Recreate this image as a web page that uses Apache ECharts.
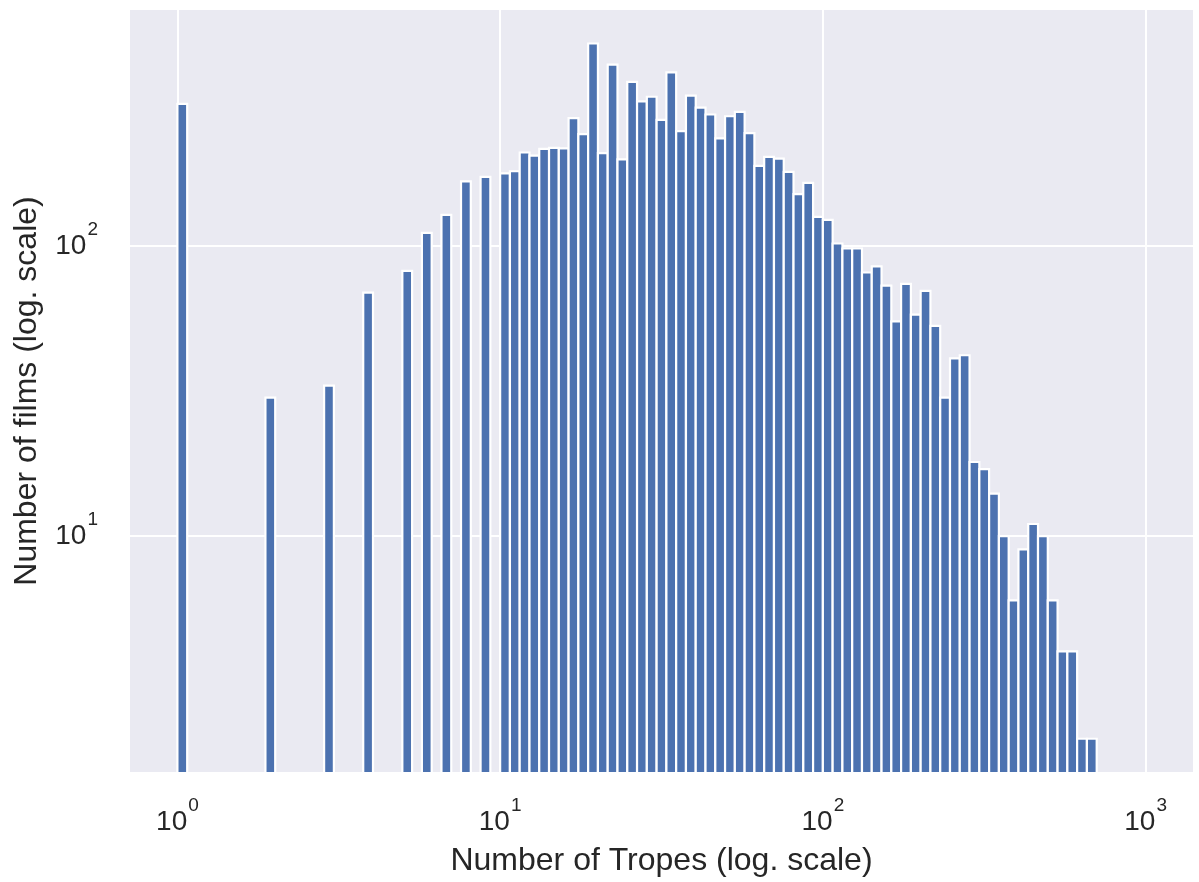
<!DOCTYPE html>
<html>
<head>
<meta charset="utf-8">
<script src="https://cdn.jsdelivr.net/npm/echarts@6/dist/echarts.min.js"></script>
<style>
  html, body { margin: 0; padding: 0; background: #fff; }
  #chart { width: 1199px; height: 882px; }
</style>
</head>
<body>
<div id="chart"></div>
<script>
// log-spaced bins: 99 bins between 10^0 and 10^3
const BIN_LOG_MIN = 0;
const BIN_LOG_MAX = 3;
const BIN_COUNT = 99;

// number of films per bin
const FILM_COUNTS = [
  309, 0, 0, 0, 0, 0, 0, 0, 0, 30,
  0, 0, 0, 0, 0, 33, 0, 0, 0, 69,
  0, 0, 0, 82, 0, 111, 0, 128, 0, 167,
  0, 173, 0, 178, 181, 210, 205, 216, 218, 217,
  276, 243, 499, 209, 422, 199, 368, 315, 327, 272,
  397, 249, 330, 300, 284, 235, 280, 290, 245, 189,
  203, 200, 180, 151, 165, 126, 123, 102, 98, 98,
  81, 85, 73, 55, 74, 58, 70, 53, 30, 41,
  42, 18, 17, 14, 10, 6, 9, 11, 10, 6,
  4, 4, 2, 2, 0, 0, 0, 0, 0
];

const X_MIN = Math.pow(10, -0.15);
const X_MAX = Math.pow(10, 3.15);
const Y_MIN = Math.pow(10, 0.183);
const Y_MAX = Math.pow(10, 2.817);

const FONT = '"Liberation Sans", Arial, Helvetica, sans-serif';
const TEXT = '#262626';

const binEdges = [];
for (let i = 0; i <= BIN_COUNT; i++) {
  binEdges.push(Math.pow(10, BIN_LOG_MIN + (BIN_LOG_MAX - BIN_LOG_MIN) * i / BIN_COUNT));
}
const bars = [];
FILM_COUNTS.forEach((c, i) => {
  if (c > 0) bars.push([binEdges[i], binEdges[i + 1], c]);
});

// 10^n labels, nothing on the axis ends
function powLabel(v) {
  const e = Math.log10(v);
  if (Math.abs(e - Math.round(e)) > 1e-6) return '';
  return '{b|10}{sup|' + Math.round(e) + '}';
}
const richLabel = {
  b: { fontSize: 28, fontFamily: FONT, color: TEXT, lineHeight: 52 },
  sup: { fontSize: 19, fontFamily: FONT, color: TEXT, lineHeight: 20, verticalAlign: 'top', padding: [0, 0, 0, 1] }
};

const chart = echarts.init(document.getElementById('chart'));
chart.setOption({
  animation: false,
  backgroundColor: '#fff',
  grid: {
    left: 129, right: 5, top: 9, bottom: 109,
    show: true, backgroundColor: '#EAEAF2', borderWidth: 0,
    outerBoundsMode: 'none'
  },
  xAxis: {
    type: 'log',
    logBase: 10,
    min: X_MIN,
    max: X_MAX,
    name: 'Number of Tropes (log. scale)',
    nameLocation: 'middle',
    nameGap: 72,
    nameMoveOverlap: false,
    nameTextStyle: { fontSize: 32, fontFamily: FONT, color: TEXT },
    axisLine: { show: false },
    axisTick: { show: false },
    axisLabel: { margin: 23, formatter: powLabel, rich: richLabel },
    splitLine: { show: true, lineStyle: { color: '#fff', width: 2 } }
  },
  yAxis: {
    type: 'log',
    logBase: 10,
    min: Y_MIN,
    max: Y_MAX,
    name: 'Number of films (log. scale)',
    nameLocation: 'middle',
    nameGap: 86,
    nameRotate: 90,
    nameMoveOverlap: false,
    nameTextStyle: { fontSize: 32, fontFamily: FONT, color: TEXT },
    axisLine: { show: false },
    axisTick: { show: false },
    axisLabel: { margin: 31, formatter: powLabel, rich: richLabel },
    splitLine: { show: true, lineStyle: { color: '#fff', width: 2 } }
  },
  series: [{
    type: 'custom',
    data: bars,
    encode: { x: [0, 1], y: 2 },
    renderItem: function (params, api) {
      const top = api.coord([api.value(0), api.value(2)]);
      const bottom = api.coord([api.value(1), Y_MIN]);
      return {
        type: 'rect',
        shape: { x: top[0], y: top[1], width: bottom[0] - top[0], height: bottom[1] - top[1] },
        style: { fill: '#4C72B0', stroke: '#fff', lineWidth: 2.2 }
      };
    }
  }]
});
</script>
</body>
</html>
